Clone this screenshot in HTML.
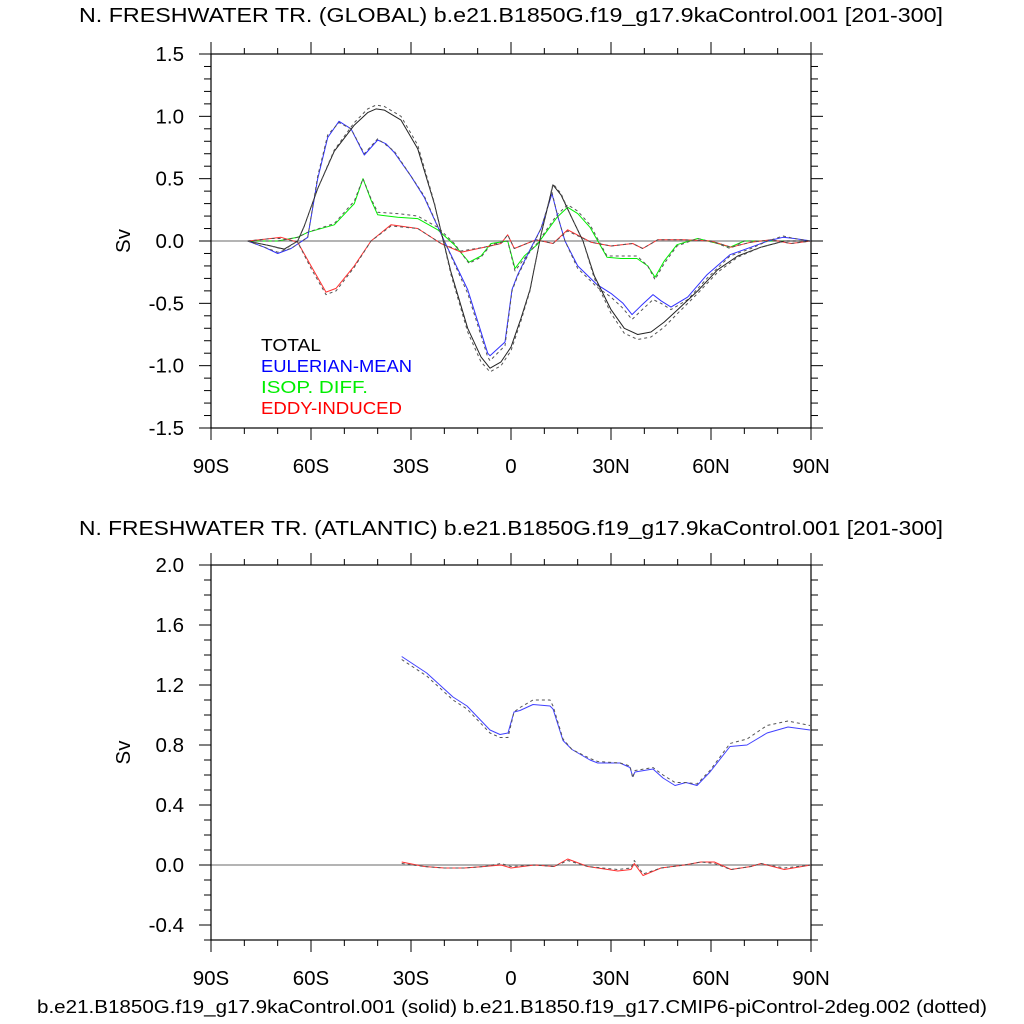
<!DOCTYPE html>
<html><head><meta charset="utf-8"><style>
body{margin:0;background:#fff;}
svg{display:block;font-family:"Liberation Sans",sans-serif;}
</style></head><body>
<svg id="chart" width="1024" height="1024" viewBox="0 0 1024 1024" xmlns="http://www.w3.org/2000/svg">
<rect width="1024" height="1024" fill="#fff"/>
<text x="511" y="22" font-size="20" text-anchor="middle" textLength="864" lengthAdjust="spacingAndGlyphs">N. FRESHWATER TR. (GLOBAL) b.e21.B1850G.f19_g17.9kaControl.001 [201-300]</text>
<text x="511" y="535" font-size="20" text-anchor="middle" textLength="864" lengthAdjust="spacingAndGlyphs">N. FRESHWATER TR. (ATLANTIC) b.e21.B1850G.f19_g17.9kaControl.001 [201-300]</text>
<text x="512" y="1013" font-size="18.5" text-anchor="middle" textLength="950" lengthAdjust="spacingAndGlyphs">b.e21.B1850G.f19_g17.9kaControl.001 (solid) b.e21.B1850.f19_g17.CMIP6-piControl-2deg.002 (dotted)</text>
<g id="top"></g><g id="bot"></g>
<g font-size="17.5">
<text x="261" y="351" fill="#000" textLength="60" lengthAdjust="spacingAndGlyphs">TOTAL</text>
<text x="261" y="372" fill="#0000ff" textLength="151" lengthAdjust="spacingAndGlyphs">EULERIAN-MEAN</text>
<text x="261" y="393" fill="#00ee00" textLength="107" lengthAdjust="spacingAndGlyphs">ISOP. DIFF.</text>
<text x="261" y="414" fill="#ff0000" textLength="141" lengthAdjust="spacingAndGlyphs">EDDY-INDUCED</text>
</g>
</svg>
<script>
// ---- Top panel data (global) ----
const totLat = [-79,-72,-68,-64,-62,-58,-53,-47,-43,-40.5,-38,-33,-28,-23,-18,-13,-9,-6.3,-3,0,3,5.7,9,12.6,15,18,21.6,25,30,34,38,42,46,50,56,62,68,75,82,90];
const totVal = [0,-0.04,-0.065,0,0.12,0.42,0.72,0.93,1.03,1.06,1.05,0.97,0.74,0.3,-0.25,-0.7,-0.93,-1.02,-0.97,-0.85,-0.62,-0.39,0.05,0.45,0.37,0.2,0,-0.28,-0.55,-0.7,-0.75,-0.73,-0.65,-0.55,-0.4,-0.23,-0.12,-0.05,0,0];
const totDot = [0,-0.04,-0.07,0,0.12,0.42,0.73,0.95,1.06,1.09,1.08,1.0,0.77,0.31,-0.27,-0.73,-0.97,-1.05,-1.0,-0.88,-0.64,-0.4,0.05,0.46,0.38,0.2,0,-0.3,-0.58,-0.74,-0.79,-0.77,-0.69,-0.58,-0.42,-0.25,-0.13,-0.05,0,0];
const eulLat = [-79,-74,-70,-66,-61,-58,-55,-51.6,-48,-44,-40,-37.5,-35,-30,-26,-20,-13,-7,-6.3,-1.8,0.3,2,5.7,9,12.3,14,16.2,20,25.8,30,33.6,36.3,39,42.6,45,48,53,58.8,65.7,72,77,81.6,85,90];
const eulVal = [0,-0.05,-0.1,-0.06,0.03,0.5,0.83,0.96,0.9,0.69,0.81,0.78,0.71,0.52,0.35,0,-0.39,-0.9,-0.92,-0.81,-0.39,-0.27,-0.07,0.1,0.38,0.2,0,-0.2,-0.35,-0.42,-0.5,-0.59,-0.52,-0.43,-0.48,-0.53,-0.45,-0.27,-0.11,-0.05,0,0.03,0.02,0];
const eulDot = [0,-0.05,-0.09,-0.06,0.03,0.52,0.85,0.95,0.9,0.7,0.82,0.77,0.72,0.52,0.36,0,-0.42,-0.93,-0.96,-0.84,-0.4,-0.28,-0.08,0.1,0.39,0.2,0,-0.22,-0.37,-0.45,-0.54,-0.63,-0.56,-0.47,-0.5,-0.55,-0.47,-0.3,-0.12,-0.06,0,0.04,0.02,0];
const isoLat = [-79,-70,-64,-61,-53,-47,-44.4,-42,-40,-34,-28,-22,-17,-12.6,-9,-6,-1,1.2,4,7.8,13.8,17,20,23.7,28.8,33,37.8,41,43.2,46,49.8,56,62,65.7,70,80,90];
const isoVal = [0,0,0.03,0.07,0.13,0.3,0.5,0.33,0.21,0.19,0.18,0.09,-0.03,-0.17,-0.12,-0.02,0,-0.22,-0.12,-0.03,0.19,0.27,0.22,0.11,-0.13,-0.14,-0.14,-0.2,-0.29,-0.16,-0.03,0.02,-0.02,-0.05,0,0,0];
const isoDot = [0,0,0.03,0.07,0.14,0.32,0.5,0.34,0.23,0.22,0.2,0.11,-0.02,-0.18,-0.13,-0.03,0,-0.24,-0.14,-0.02,0.21,0.29,0.24,0.13,-0.12,-0.12,-0.12,-0.2,-0.31,-0.18,-0.04,0.02,-0.02,-0.06,0,0,0];
const edLat = [-79,-72,-69,-64,-60,-55.5,-52.5,-47,-42,-36,-28,-21,-15,-8,-3,-1,1,7.5,12.6,17,24,30,36.5,39.5,44,52,60,66,72,78,84,90];
const edVal = [0,0.02,0.03,-0.01,-0.2,-0.41,-0.38,-0.2,0,0.13,0.1,-0.02,-0.09,-0.05,-0.02,0.05,-0.06,0.01,-0.02,0.09,-0.01,-0.04,-0.02,-0.06,0.01,0.01,0,-0.05,-0.01,0.01,-0.02,0];
const edDot = [0,0.02,0.02,-0.01,-0.22,-0.43,-0.4,-0.21,0,0.12,0.1,-0.02,-0.08,-0.05,-0.02,0.05,-0.06,0.01,-0.02,0.08,-0.01,-0.04,-0.02,-0.06,0.01,0.01,0,-0.05,-0.01,0.01,-0.02,0];
// ---- Bottom panel data (Atlantic) ----
const atlLat = [-32.8,-25.3,-17.4,-13.2,-6.3,-3.3,-0.9,0.9,2.7,6.6,11.7,12.6,15.6,18.3,23.7,26,32.7,35.7,36.5,37.2,42.6,45.6,49.2,52.5,55.8,59.7,65.7,70.8,76.8,83.1,89.7];
const atlVal = [1.39,1.28,1.12,1.06,0.9,0.87,0.88,1.02,1.03,1.07,1.06,1.04,0.83,0.77,0.7,0.68,0.68,0.65,0.59,0.62,0.64,0.58,0.53,0.55,0.53,0.62,0.79,0.8,0.88,0.92,0.9];
const atlDot = [1.37,1.26,1.1,1.04,0.88,0.85,0.85,1.02,1.05,1.1,1.1,1.06,0.84,0.77,0.71,0.69,0.68,0.66,0.58,0.63,0.65,0.6,0.55,0.55,0.54,0.63,0.81,0.84,0.93,0.96,0.93];
const aedLat = [-32.8,-26,-20,-14,-8,-3,0,7,13,17,23,32,36,37,39.6,45,52,57,61,66,72,75,82,90];
const aedVal = [0.02,-0.01,-0.02,-0.02,-0.01,0,-0.02,0,-0.01,0.04,-0.01,-0.04,-0.03,0.01,-0.07,-0.02,0,0.02,0.02,-0.03,-0.01,0.01,-0.03,0];
const aedDot = [0.01,-0.01,-0.02,-0.02,-0.01,0.01,-0.01,0,-0.01,0.03,-0.01,-0.03,-0.02,0.03,-0.06,-0.02,0,0.02,0.01,-0.03,-0.01,0.01,-0.02,0];
const xTicks = [-90,-60,-30,0,30,60,90];
const xLabels = ["90S","60S","30S","0","30N","60N","90N"];
const topYTicks = [-1.5,-1.0,-0.5,0.0,0.5,1.0,1.5];
const botYTicks = [-0.4,0.0,0.4,0.8,1.2,1.6,2.0];

const NS="http://www.w3.org/2000/svg";
function mk(parent,tag,attrs){const e=document.createElementNS(NS,tag);for(const k in attrs)e.setAttribute(k,attrs[k]);parent.appendChild(e);return e;}
const X0=211,X1=811;
function xs(lat){return X0+(lat+90)/180*(X1-X0);}

function panel(gid,y0,y1,vmin,vmax,yt,ylbl,minorStep,name){
  const g=document.getElementById(gid);
  
  
  const ys=v=>y1-(v-vmin)/(vmax-vmin)*(y1-y0);
  const z=mk(g,'line',{x1:X0,x2:X1,y1:ys(0),y2:ys(0),stroke:'#888','stroke-width':1.2});
  
  
  const f=mk(g,'rect',{x:X0,y:y0,width:X1-X0,height:y1-y0,fill:'none',stroke:'#000','stroke-width':1.2});
  
  
  for(let lat=-90;lat<=90;lat+=10){
    const major=lat%30===0;const L=major?12:6;const x=xs(lat);
    mk(g,'line',{x1:x,x2:x,y1:y1,y2:y1+L,stroke:'#000','stroke-width':1});
    mk(g,'line',{x1:x,x2:x,y1:y0,y2:y0-L,stroke:'#000','stroke-width':1});
  }
  xTicks.forEach((t,i)=>{const tx=mk(g,'text',{x:xs(t),y:y1+45,'font-size':20.5,'text-anchor':'middle'});tx.textContent=xLabels[i];
    
    });
  const n=Math.round((vmax-vmin)/minorStep);
  for(let i=0;i<=n;i++){const v=vmin+i*minorStep;const y=ys(v);
    const major=yt.some(t=>Math.abs(t-v)<1e-6);const L=major?12:7;
    mk(g,'line',{x1:X0,x2:X0-L,y1:y,y2:y,stroke:'#000','stroke-width':1});
    mk(g,'line',{x1:X1,x2:X1+L,y1:y,y2:y,stroke:'#000','stroke-width':1});}
  yt.forEach(t=>{const tx=mk(g,'text',{x:184,y:ys(t)+7,'font-size':20.5,'text-anchor':'end'});tx.textContent=t.toFixed(1);
    
    });
  const yl=mk(g,'text',{x:130,y:(y0+y1)/2,'font-size':20.5,'text-anchor':'middle',transform:`rotate(-90 130 ${(y0+y1)/2})`});
  yl.textContent=ylbl;
  
  
  return ys;
}
function series(g,ys,lat,val,color,dotted,name){
  const d=lat.map((l,i)=>(i?'L':'M')+xs(l).toFixed(1)+','+ys(val[i]).toFixed(1)).join('');
  const p=mk(g,'path',{d:d,fill:'none',stroke:color,'stroke-width':1,'stroke-dasharray':dotted?'3,3':'none','stroke-linejoin':'round'});
  
  
}
const ysT=panel('top',54,428,-1.5,1.5,topYTicks,'Sv',0.1,'global-panel');
const gT=document.getElementById('top');
series(gT,ysT,isoLat,isoVal,'#00ee00',false,'isop-diff-solid');
series(gT,ysT,isoLat,isoDot,'#555',true,'isop-diff-dotted');
series(gT,ysT,edLat,edVal,'#ff3030',false,'eddy-induced-solid');
series(gT,ysT,edLat,edDot,'#555',true,'eddy-induced-dotted');
series(gT,ysT,eulLat,eulVal,'#3030ff',false,'eulerian-solid');
series(gT,ysT,eulLat,eulDot,'#555',true,'eulerian-dotted');
series(gT,ysT,totLat,totVal,'#222',false,'total-solid');
series(gT,ysT,totLat,totDot,'#555',true,'total-dotted');
const ysB=panel('bot',565,940,-0.5,2.0,botYTicks,'Sv',0.1,'atlantic-panel');
const gB=document.getElementById('bot');
series(gB,ysB,atlLat,atlVal,'#4040ff',false,'atlantic-eulerian-solid');
series(gB,ysB,atlLat,atlDot,'#555',true,'atlantic-eulerian-dotted');
series(gB,ysB,aedLat,aedVal,'#ff3030',false,'atlantic-eddy-solid');
series(gB,ysB,aedLat,aedDot,'#555',true,'atlantic-eddy-dotted');
</script>
</body></html>
